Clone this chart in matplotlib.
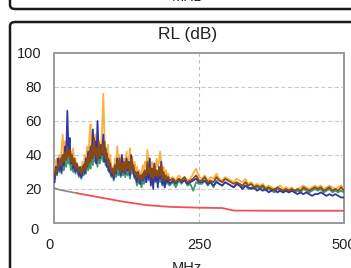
import numpy as np
import matplotlib
matplotlib.use("Agg")
import matplotlib.pyplot as plt
import matplotlib.transforms as mtransforms
from matplotlib.patches import FancyBboxPatch

plt.rcParams['font.family'] = ['Liberation Sans', 'DejaVu Sans']

# sample frequencies (MHz)
freq = np.concatenate([np.arange(1, 200, 2), np.arange(205, 501, 5)])

orange = [30, 36, 38, 33, 40, 35, 44, 52, 38, 48,
          36, 45, 40, 34, 42, 37, 44, 33, 38, 31,
          34, 30, 33, 29, 36, 31, 40, 35, 45, 38,
          50, 58, 42, 48, 39, 52, 44, 36, 47, 40,
          45, 55, 76, 50, 42, 38, 46, 35, 40, 31,
          33, 29, 38, 34, 45, 36, 40, 33, 37, 30,
          38, 34, 42, 33, 37, 44, 35, 39, 32, 36,
          30, 33, 28, 31, 27, 30, 34, 29, 36, 33,
          43, 35, 38, 32, 36, 30, 34, 31, 38, 33,
          36, 42, 34, 30, 33, 28, 31, 27, 29, 26,
          27, 25, 28, 26, 27, 25, 26, 29, 32, 27,
          26, 28, 25, 27, 26, 29, 26, 25, 27, 26,
          25, 24, 26, 25, 24, 26, 23, 24, 22, 23,
          22, 23, 21, 22, 21, 20, 21, 22, 20, 21,
          20, 21, 19, 20, 21, 22, 21, 20, 21, 22,
          21, 22, 20, 21, 22, 21, 20, 21, 22, 20]

blue = [24, 33, 29, 38, 31, 36, 30, 40, 34, 45,
        38, 66, 42, 50, 35, 40, 32, 37, 30, 35,
        31, 28, 33, 27, 30, 34, 29, 38, 33, 42,
        36, 45, 38, 55, 40, 48, 35, 60, 42, 38,
        46, 40, 52, 36, 44, 33, 38, 30, 35, 28,
        31, 26, 34, 29, 38, 32, 35, 28, 40, 30,
        34, 29, 38, 31, 36, 28, 40, 33, 30, 27,
        28, 24, 30, 26, 23, 28, 25, 30, 27, 24,
        34, 26, 38, 22, 32, 20, 35, 25, 30, 21,
        33, 26, 36, 23, 29, 21, 27, 24, 26, 23,
        25, 23, 26, 24, 25, 23, 24, 25, 26, 24,
        24, 25, 23, 24, 22, 24, 23, 22, 24, 23,
        22, 21, 23, 22, 20, 22, 21, 20, 21, 19,
        20, 19, 20, 18, 19, 20, 18, 19, 18, 19,
        18, 19, 18, 17, 18, 17, 18, 17, 16, 17,
        17, 18, 17, 16, 17, 16, 17, 16, 15, 15]

brown = [28, 32, 30, 35, 33, 38, 34, 40, 36, 42,
         37, 45, 39, 43, 36, 40, 34, 38, 32, 35,
         33, 30, 32, 29, 33, 30, 35, 32, 38, 34,
         42, 36, 46, 38, 50, 40, 44, 37, 48, 39,
         42, 46, 40, 48, 38, 41, 34, 37, 32, 30,
         32, 28, 34, 30, 36, 32, 38, 30, 35, 31,
         36, 30, 37, 32, 35, 30, 38, 32, 34, 29,
         30, 27, 29, 26, 28, 25, 29, 27, 31, 28,
         36, 29, 33, 27, 32, 26, 34, 28, 31, 27,
         32, 28, 34, 26, 30, 25, 28, 26, 27, 25,
         26, 24, 26, 25, 27, 24, 25, 26, 28, 25,
         25, 27, 24, 25, 24, 27, 25, 24, 26, 25,
         24, 23, 24, 23, 22, 24, 22, 23, 21, 22,
         21, 22, 20, 21, 20, 19, 21, 20, 19, 20,
         19, 20, 19, 20, 19, 21, 20, 19, 20, 21,
         20, 21, 19, 20, 21, 19, 20, 19, 21, 19]

green = [26, 30, 28, 33, 30, 34, 29, 36, 31, 38,
         33, 40, 35, 38, 31, 35, 30, 34, 29, 32,
         30, 27, 30, 26, 29, 28, 32, 29, 34, 31,
         36, 32, 40, 34, 42, 36, 39, 33, 41, 35,
         38, 41, 36, 42, 34, 37, 31, 33, 29, 27,
         29, 25, 30, 27, 32, 28, 33, 27, 31, 28,
         32, 27, 33, 28, 31, 26, 34, 29, 30, 26,
         26, 22, 26, 23, 24, 21, 25, 23, 27, 24,
         31, 25, 29, 23, 28, 22, 30, 24, 27, 23,
         28, 24, 30, 22, 26, 21, 25, 23, 24, 22,
         24, 21, 25, 23, 26, 22, 23, 19, 24, 23,
         23, 25, 22, 24, 21, 25, 23, 22, 24, 23,
         22, 21, 23, 22, 21, 22, 20, 21, 20, 21,
         20, 21, 19, 20, 19, 18, 20, 19, 18, 19,
         18, 19, 18, 19, 18, 20, 19, 18, 19, 20,
         19, 20, 18, 19, 20, 18, 19, 18, 19, 18]

limit_gray_f = [1, 10, 40]
limit_gray_v = [20.5, 19.5, 17.5]
limit_red_f = [40, 80, 120, 160, 200, 250, 290, 310, 400, 500]
limit_red_v = [17.5, 15, 12.5, 10.5, 9.5, 9.0, 8.8, 7.3, 7.2, 7.2]

yticks = [0, 20, 40, 60, 80, 100]
xticks = [0, 250, 500]

W, H = 351, 268
fig = plt.figure(figsize=(W / 100, H / 100), dpi=100)

# frames of panels
frame_kw = dict(transform=fig.transFigure, fill=False, edgecolor='#1a1a1a',
                linewidth=1.8, clip_on=False)
fig.patches.append(FancyBboxPatch((10 / W, 1 - 9 / H), 400 / W, 1.0,
                                  boxstyle='round,pad=0,rounding_size=0.015', **frame_kw))
fig.patches.append(FancyBboxPatch((10 / W, -0.2), 400 / W, (1 - 22 / H) + 0.2,
                                  boxstyle='round,pad=0,rounding_size=0.015', **frame_kw))

fig.text(187 / W, 1 - 4 / H, 'MHz', ha='center', va='bottom', fontsize=10.5, color='#222')
fig.text(188 / W, 1 - 35 / H, 'RL (dB)', ha='center', va='center', fontsize=12.5, color='#222')
fig.text(187 / W, 1 - 261 / H, 'MHz', ha='center', va='top', fontsize=10.5, color='#222')

ax = fig.add_axes([54 / W, 1 - 223 / H, 290 / W, 170 / H])
lw = 1.3
ax.plot(freq, orange, color='#F8B13E', lw=lw, zorder=3)
ax.plot(freq, green, color='#3E9A6E', lw=lw, zorder=4)
ax.plot(freq, blue, color='#3535A8', lw=lw, zorder=5)
ax.plot(freq, brown, color='#8A4A16', lw=lw, zorder=6)
ax.plot(limit_gray_f, limit_gray_v, color='#888888', lw=1.2, zorder=7)
ax.plot(limit_red_f, limit_red_v, color='#F05050', lw=1.3, zorder=7)

ax.set_xlim(0, 500)
ax.set_ylim(0, 100)
ax.set_xticks(xticks)
ax.set_yticks(yticks)
ax.set_xticklabels([str(t) for t in xticks])
ax.set_yticklabels([str(t) for t in yticks])
ax.tick_params(length=0, labelsize=10.5, labelcolor='#222')
ax.tick_params(axis='x', pad=11)
ax.tick_params(axis='y', pad=9)
for s in ax.spines.values():
    s.set_color('#9a9a9a')
    s.set_linewidth(1.4)
for v in [20, 40, 60, 80]:
    ax.axhline(v, color='#cccccc', lw=0.8, ls=(0, (4, 2)), zorder=1)
ax.axvline(250, color='#bbbbbb', lw=0.8, ls=(0, (3, 3)), zorder=1)

# small offsets of the zero labels as in the reference
xl0 = ax.get_xticklabels()[0]
xl0.set_transform(xl0.get_transform() + mtransforms.ScaledTranslation(-4 / 100, 0, fig.dpi_scale_trans))
yl0 = ax.get_yticklabels()[0]
yl0.set_transform(yl0.get_transform() + mtransforms.ScaledTranslation(-3 / 100, -5 / 100, fig.dpi_scale_trans))

fig.savefig('out.png', dpi=100)
